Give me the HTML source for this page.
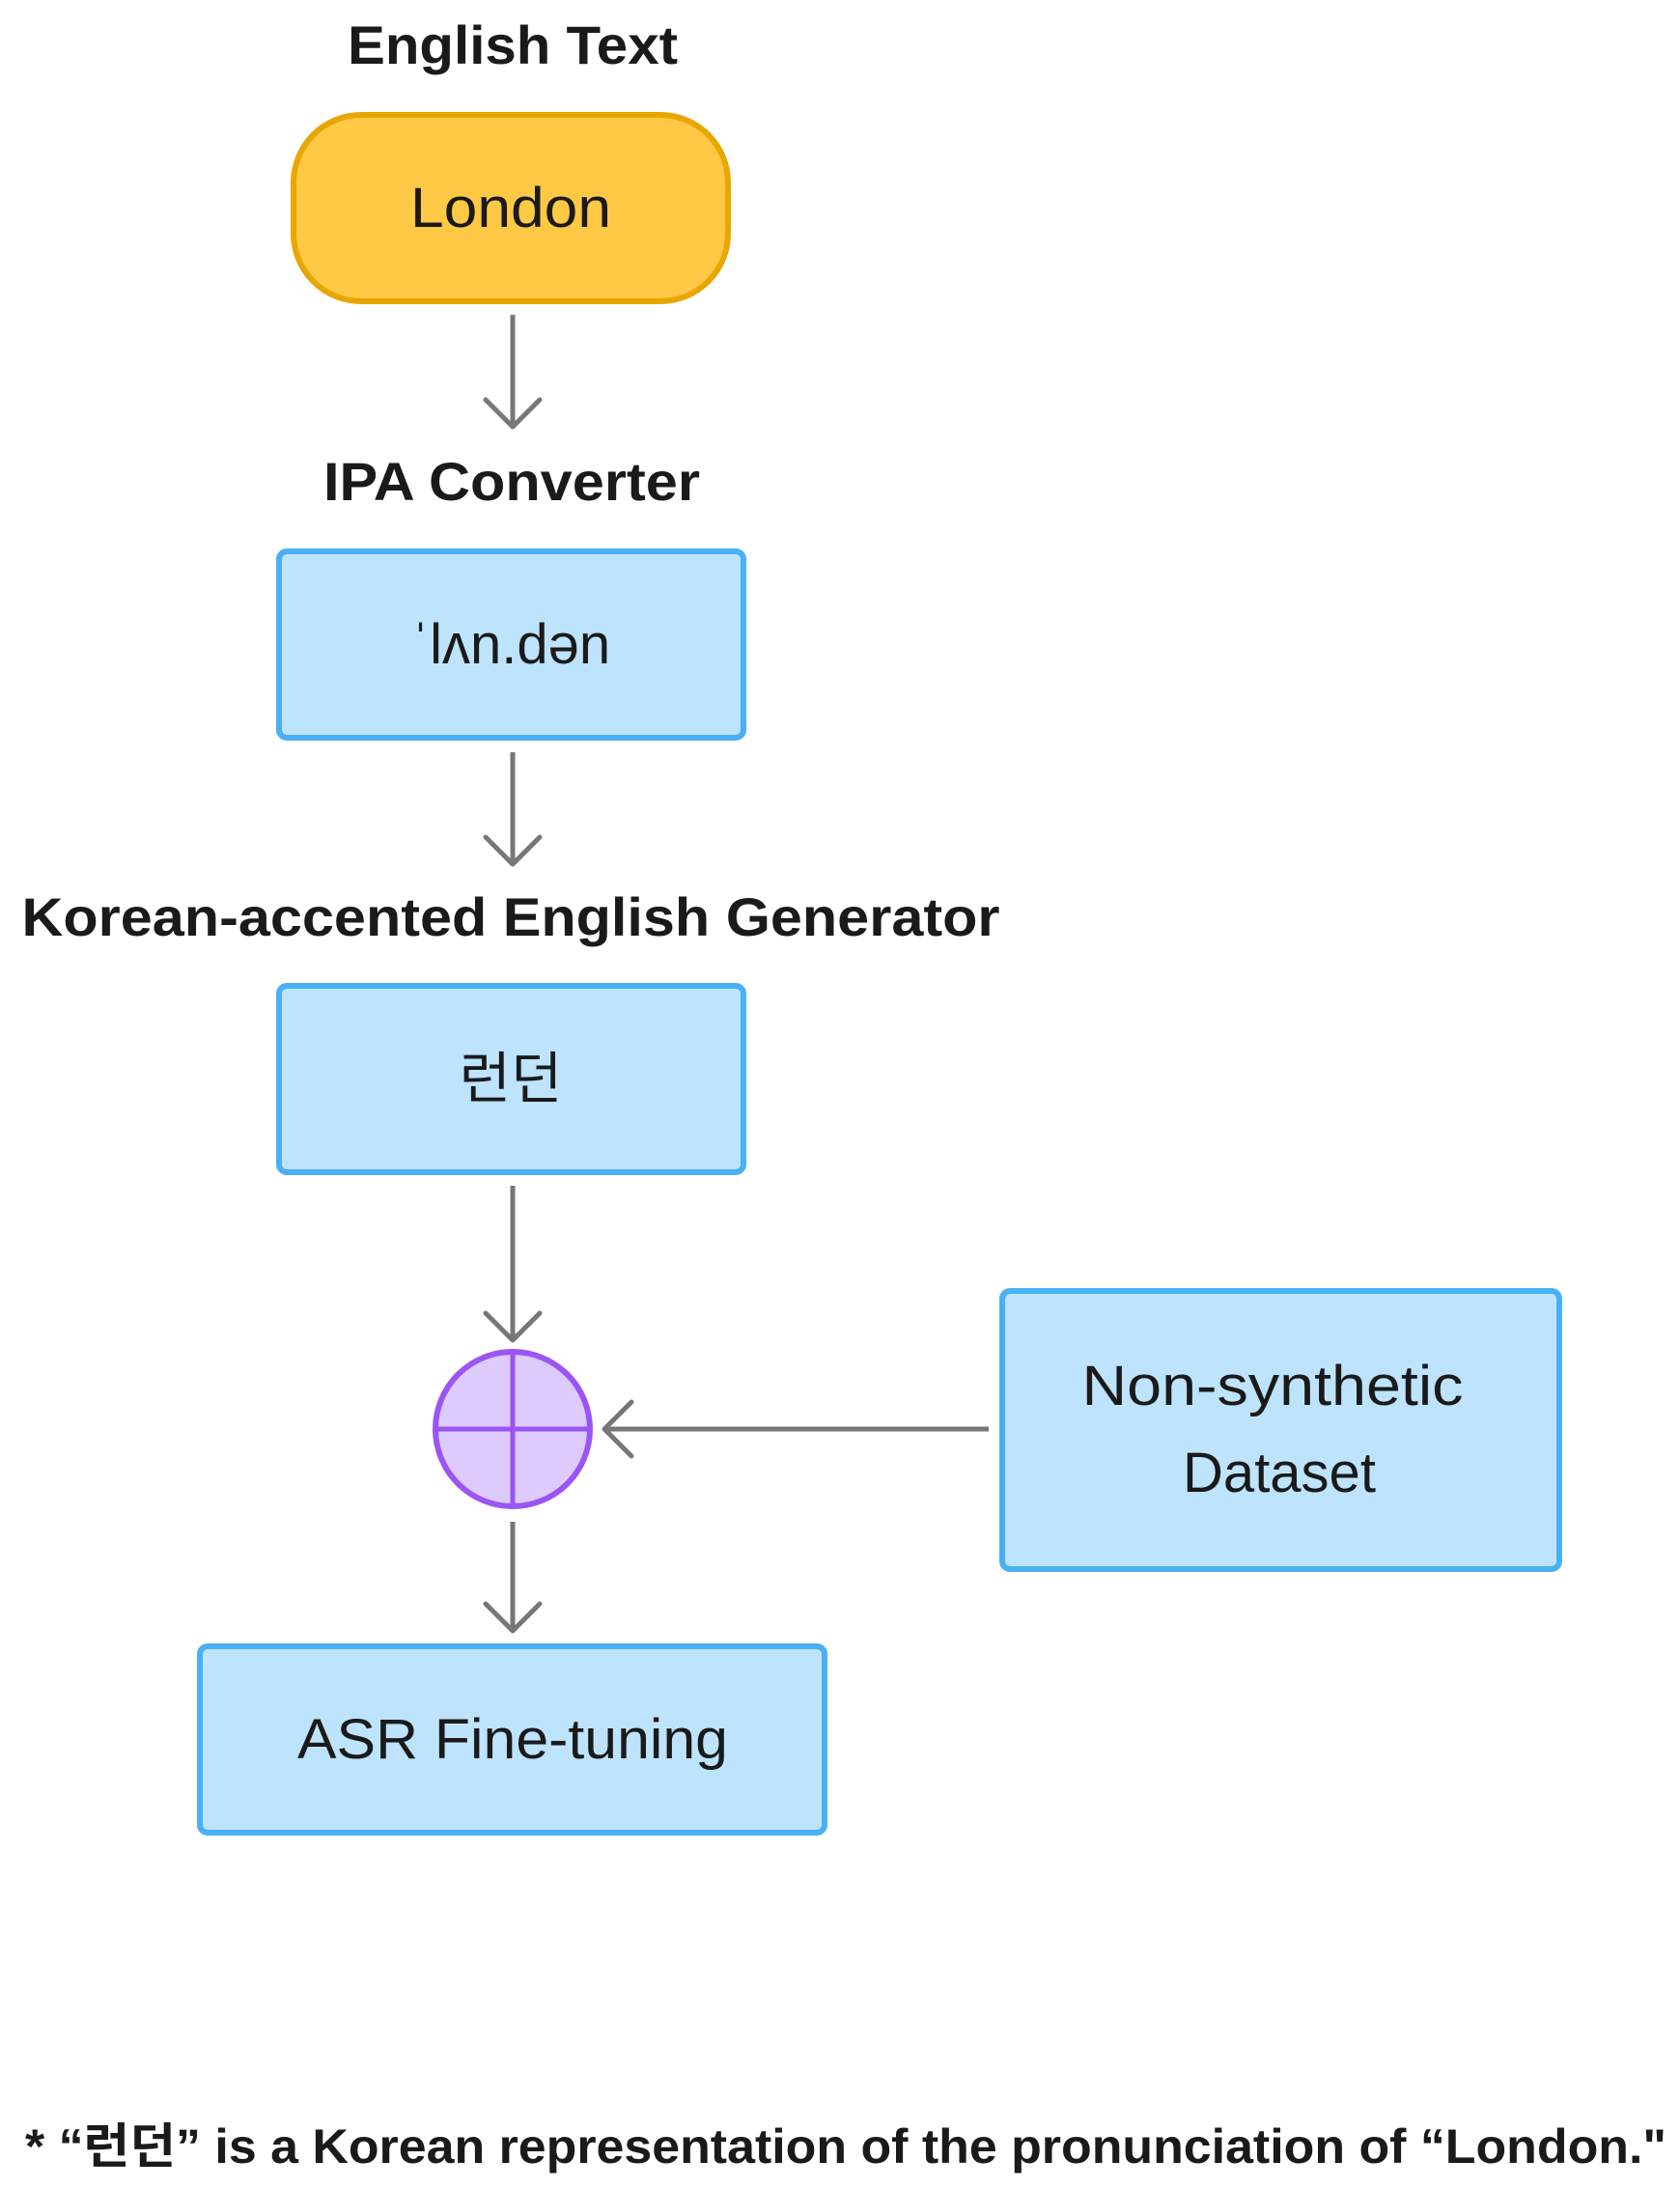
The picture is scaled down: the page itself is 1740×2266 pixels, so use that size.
<!DOCTYPE html>
<html><head><meta charset="utf-8"><style>
html,body{margin:0;padding:0;background:#fff;}
svg{display:block;}
text{font-family:"Liberation Sans","Noto Sans CJK KR",sans-serif;fill:#1a1a1a;}
.b{font-weight:bold;}
</style></head><body>
<svg width="1740" height="2266" viewBox="0 0 1740 2266" xmlns="http://www.w3.org/2000/svg">
<g stroke="#777" stroke-width="5" fill="none">
<line x1="531" y1="326" x2="531" y2="440"/>
<polyline points="503,414 531,442 559,414" stroke-linecap="round" stroke-linejoin="round"/>
<line x1="531" y1="779" x2="531" y2="893"/>
<polyline points="503,867 531,895 559,867" stroke-linecap="round" stroke-linejoin="round"/>
<line x1="531" y1="1228" x2="531" y2="1386"/>
<polyline points="503,1360 531,1388 559,1360" stroke-linecap="round" stroke-linejoin="round"/>
<line x1="531" y1="1576" x2="531" y2="1687"/>
<polyline points="503,1661 531,1689 559,1661" stroke-linecap="round" stroke-linejoin="round"/>
<line x1="1024" y1="1480" x2="628" y2="1480"/>
<polyline points="654,1452 626,1480 654,1508" stroke-linecap="round" stroke-linejoin="round"/>
</g>
<text class="b" x="531" y="66" font-size="56" text-anchor="middle" textLength="342" lengthAdjust="spacingAndGlyphs">English Text</text>
<rect x="304" y="119" width="450" height="193" rx="70" fill="#FFC845" stroke="#E8A600" stroke-width="6"/>
<text x="529" y="235" font-size="58" text-anchor="middle" textLength="208" lengthAdjust="spacingAndGlyphs">London</text>
<text class="b" x="530" y="518" font-size="56" text-anchor="middle" textLength="390" lengthAdjust="spacingAndGlyphs">IPA Converter</text>
<rect x="289" y="571" width="481" height="193" rx="8" fill="#BEE3FD" stroke="#4AB0F5" stroke-width="6"/>
<text x="529" y="687" font-size="58" text-anchor="middle">ˈlʌn.dən</text>
<text class="b" x="529" y="969" font-size="56" text-anchor="middle" textLength="1013" lengthAdjust="spacingAndGlyphs">Korean-accented English Generator</text>
<rect x="289" y="1021" width="481" height="193" rx="8" fill="#BEE3FD" stroke="#4AB0F5" stroke-width="6"/>
<text x="529" y="1137" font-size="58" text-anchor="middle">런던</text>
<circle cx="531" cy="1480" r="80" fill="#DCCBFC" stroke="#9B55F5" stroke-width="6"/>
<line x1="531" y1="1400" x2="531" y2="1560" stroke="#9B55F5" stroke-width="5"/>
<line x1="451" y1="1480" x2="611" y2="1480" stroke="#9B55F5" stroke-width="5"/>
<rect x="1038" y="1337" width="577" height="288" rx="8" fill="#BEE3FD" stroke="#4AB0F5" stroke-width="6"/>
<text x="1318" y="1455" font-size="58" text-anchor="middle" textLength="395" lengthAdjust="spacingAndGlyphs">Non-synthetic</text>
<text x="1325" y="1545" font-size="58" text-anchor="middle">Dataset</text>
<rect x="207" y="1705" width="647" height="193" rx="8" fill="#BEE3FD" stroke="#4AB0F5" stroke-width="6"/>
<text x="531" y="1821" font-size="58" text-anchor="middle" textLength="446" lengthAdjust="spacingAndGlyphs">ASR Fine-tuning</text>
<text class="b" x="26" y="2240" font-size="50" textLength="1700" lengthAdjust="spacingAndGlyphs">* “런던” is a Korean representation of the pronunciation of “London."</text>
</svg>
</body></html>
